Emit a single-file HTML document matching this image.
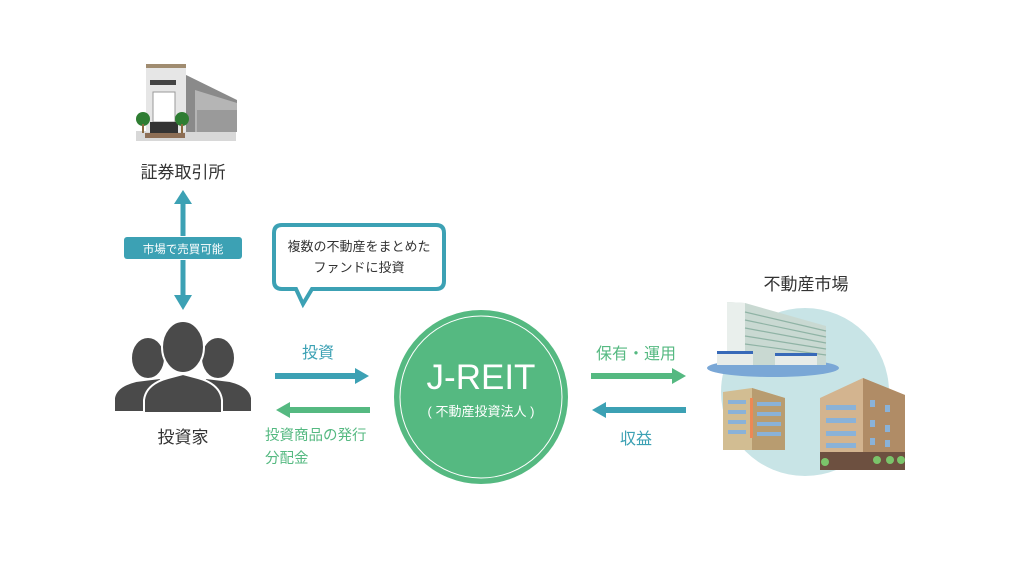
<!DOCTYPE html>
<html><head><meta charset="utf-8"><style>
html,body{margin:0;padding:0;background:#fff;}
svg{display:block;font-family:"Liberation Sans","Noto Sans CJK JP",sans-serif;}
</style></head><body>
<svg width="1024" height="578" viewBox="0 0 1024 578" xmlns="http://www.w3.org/2000/svg">
<!-- exchange building -->
<g>
<rect x="136" y="131" width="100" height="10" fill="#d8d8d8"/>
<polygon points="180,72 237,100 237,132 180,132" fill="#8a8a8a"/>
<polygon points="195,90 237,103 237,132 195,132" fill="#b5b5b5"/>
<rect x="197" y="110" width="40" height="22" fill="#9a9a9a"/>
<rect x="146" y="67" width="40" height="65" fill="#e6e6e6"/>
<rect x="146" y="64" width="40" height="4" fill="#a08c70"/>
<rect x="150" y="80" width="26" height="5" fill="#444"/>
<rect x="153" y="92" width="22" height="30" fill="#fff" stroke="#999"/>
<rect x="150" y="122" width="28" height="11" fill="#333"/>
<circle cx="143" cy="119" r="7" fill="#2e7d32"/><rect x="142" y="124" width="2" height="9" fill="#8b6a40"/>
<circle cx="182" cy="119" r="7" fill="#2e7d32"/><rect x="181" y="124" width="2" height="9" fill="#8b6a40"/>
<rect x="145" y="133" width="40" height="5" fill="#8d6e55"/>
</g>
<text x="183" y="178" font-size="17" fill="#333" text-anchor="middle">証券取引所</text>
<!-- vertical arrow -->
<g fill="#3ca1b4">
<polygon points="183,190 174,204 192,204"/>
<rect x="180.5" y="203" width="5" height="33"/>
<rect x="124" y="237" width="118" height="22" rx="3"/>
<rect x="180.5" y="260" width="5" height="36"/>
<polygon points="183,310 174,295 192,295"/>
</g>
<text x="183" y="253" font-size="11.5" fill="#fff" text-anchor="middle">市場で売買可能</text>
<!-- bubble -->
<path d="M282,225 H436 Q444,225 444,233 V281 Q444,289 436,289 H312 L303,304 L296,289 H282 Q274,289 274,281 V233 Q274,225 282,225 Z" fill="#fff" stroke="#3ca1b4" stroke-width="4"/>
<text x="359" y="251" font-size="13" fill="#333" text-anchor="middle">複数の不動産をまとめた</text>
<text x="359" y="272" font-size="13" fill="#333" text-anchor="middle">ファンドに投資</text>
<!-- people -->
<g fill="#4a4a4a" stroke="#fff" stroke-width="2">
<ellipse cx="148" cy="358" rx="17" ry="21"/>
<path d="M114,412 V398 Q116,386 136,381 L160,378 L172,390 V412 Z"/>
<ellipse cx="218" cy="358" rx="17" ry="21"/>
<path d="M252,412 V398 Q250,386 230,381 L206,378 L194,390 V412 Z"/>
<ellipse cx="183" cy="347" rx="21" ry="26"/>
<path d="M144,413 V400 Q146,384 168,378 L183,374 L198,378 Q220,384 222,400 V413 Z"/>
</g>
<text x="183" y="443" font-size="17" fill="#333" text-anchor="middle">投資家</text>
<!-- left arrows -->
<text x="318" y="358" font-size="16" fill="#3ca1b4" text-anchor="middle">投資</text>
<rect x="275" y="373" width="82" height="6" fill="#3ca1b4"/>
<polygon points="369,376 355,368 355,384" fill="#3ca1b4"/>
<rect x="288" y="407" width="82" height="6" fill="#55b981"/>
<polygon points="276,410 290,402 290,418" fill="#55b981"/>
<text x="265" y="440" font-size="14.5" fill="#55b981">投資商品の発行</text>
<text x="265" y="463" font-size="14.5" fill="#55b981">分配金</text>
<!-- circle -->
<circle cx="481" cy="397" r="87" fill="#55b981"/>
<circle cx="481" cy="397" r="81" fill="none" stroke="#fff" stroke-width="1"/>
<text x="481" y="389" font-size="35" fill="#fff" text-anchor="middle">J-REIT</text>
<text x="481" y="416" font-size="13" fill="#fff" text-anchor="middle">( 不動産投資法人 )</text>
<!-- right arrows -->
<text x="636" y="359" font-size="16" fill="#55b981" text-anchor="middle">保有・運用</text>
<rect x="591" y="373" width="82" height="6" fill="#55b981"/>
<polygon points="686,376 672,368 672,384" fill="#55b981"/>
<rect x="604" y="407" width="82" height="6" fill="#3ca1b4"/>
<polygon points="592,410 606,402 606,418" fill="#3ca1b4"/>
<text x="636" y="444" font-size="16" fill="#3ca1b4" text-anchor="middle">収益</text>
<!-- real estate market -->
<text x="806" y="290" font-size="17" fill="#333" text-anchor="middle">不動産市場</text>
<circle cx="805" cy="392" r="84" fill="#c8e4e6"/>
<!-- tower -->
<ellipse cx="773" cy="368" rx="66" ry="9" fill="#7aa7d6"/>
<polygon points="727,302 745,303 826,326 826,365 727,365" fill="#c9d9d2"/>
<polygon points="727,302 745,303 745,365 727,365" fill="#e9efec"/>
<g stroke="#8fb3a5" stroke-width="1.2">
<line x1="745" y1="312" x2="826" y2="331"/><line x1="745" y1="320" x2="826" y2="337"/>
<line x1="745" y1="328" x2="826" y2="343"/><line x1="745" y1="336" x2="826" y2="349"/>
<line x1="745" y1="344" x2="826" y2="355"/>
</g>
<rect x="717" y="352" width="36" height="13" fill="#e7ece9"/><rect x="717" y="351" width="36" height="3" fill="#3769b8"/>
<rect x="775" y="354" width="42" height="11" fill="#e7ece9"/><rect x="775" y="353" width="42" height="3" fill="#3769b8"/>
<!-- small building -->
<polygon points="723,392 752,388 785,398 785,450 723,450" fill="#d2bd92"/>
<polygon points="752,388 785,398 785,450 752,450" fill="#b89c70"/>
<rect x="750" y="398" width="3" height="40" fill="#e85"/>
<g fill="#8ab2d8"><rect x="728" y="400" width="18" height="4"/><rect x="728" y="410" width="18" height="4"/><rect x="728" y="420" width="18" height="4"/><rect x="728" y="430" width="18" height="4"/>
<rect x="757" y="402" width="24" height="4"/><rect x="757" y="412" width="24" height="4"/><rect x="757" y="422" width="24" height="4"/><rect x="757" y="432" width="24" height="4"/></g>
<!-- tan building -->
<polygon points="820,398 863,378 905,395 905,470 820,470" fill="#d3b48f"/>
<polygon points="863,378 905,395 905,470 863,470" fill="#b08c66"/>
<rect x="820" y="452" width="85" height="18" fill="#6d5040"/>
<g fill="#8ab2d8"><rect x="826" y="405" width="30" height="5"/><rect x="826" y="418" width="30" height="5"/><rect x="826" y="431" width="30" height="5"/><rect x="826" y="443" width="30" height="5"/>
<rect x="870" y="400" width="5" height="7"/><rect x="885" y="405" width="5" height="7"/><rect x="870" y="420" width="5" height="7"/><rect x="885" y="425" width="5" height="7"/><rect x="870" y="438" width="5" height="7"/><rect x="885" y="440" width="5" height="7"/></g>
<g fill="#7bc46a"><circle cx="877" cy="460" r="4"/><circle cx="890" cy="460" r="4"/><circle cx="901" cy="460" r="4"/><circle cx="825" cy="462" r="4"/></g>
</svg>
</body></html>
